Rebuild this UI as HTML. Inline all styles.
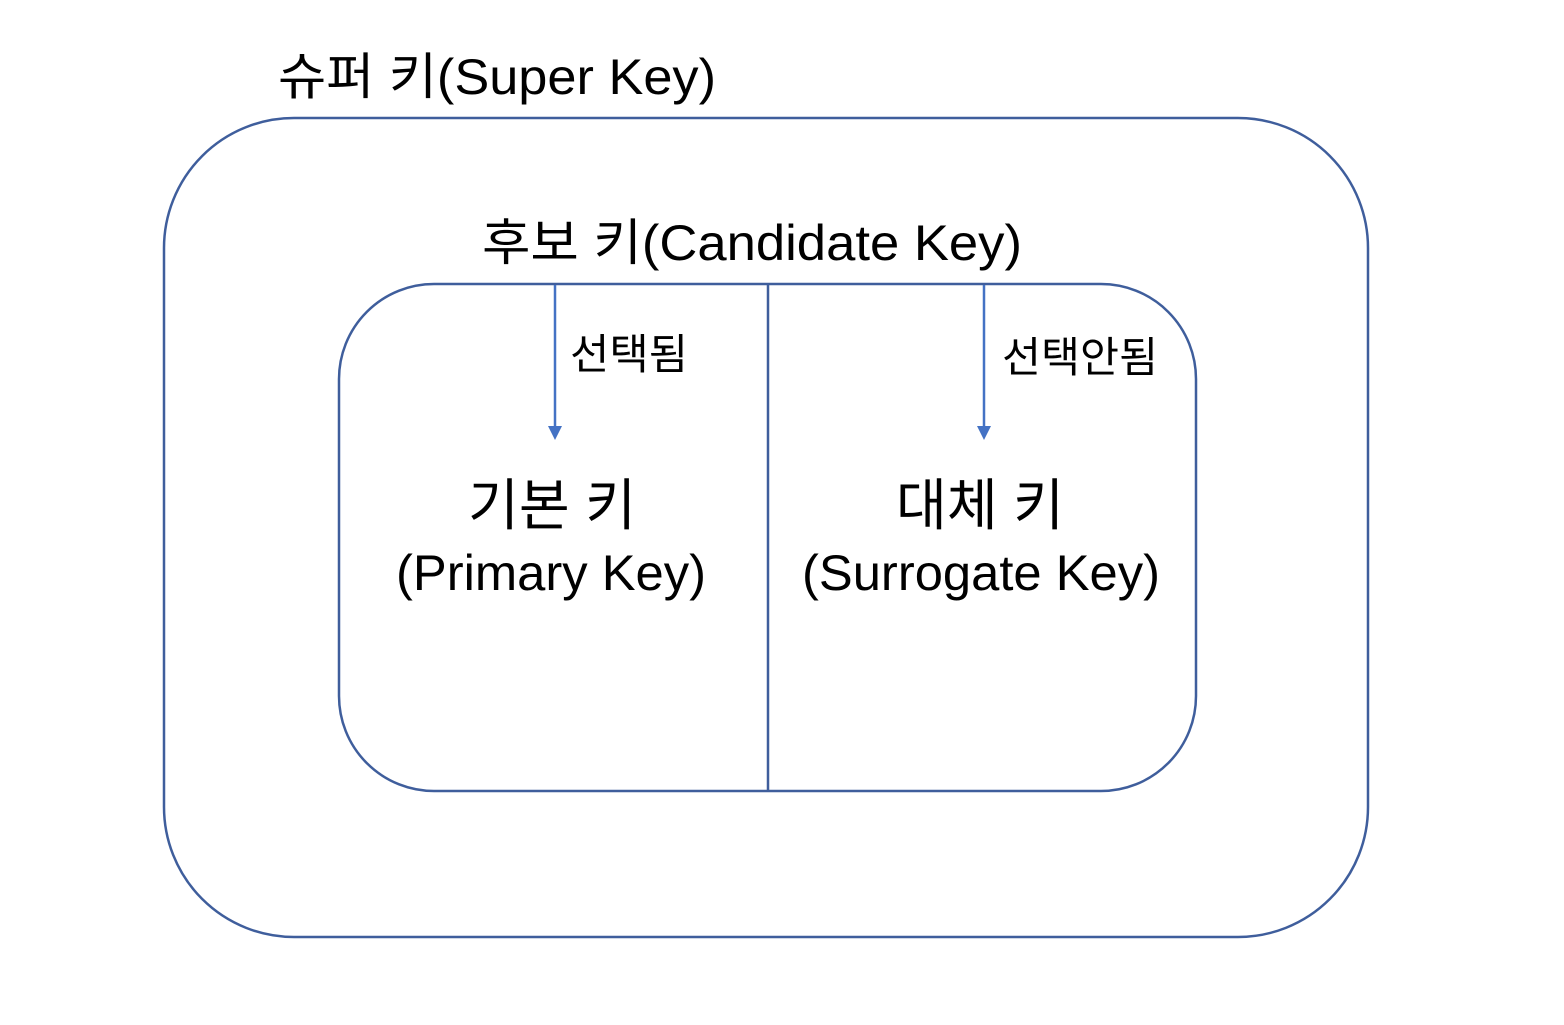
<!DOCTYPE html>
<html><head><meta charset="utf-8"><style>
html,body{margin:0;padding:0;background:#fff;}
svg text{font-family:"Liberation Sans","Noto Sans CJK KR",sans-serif;fill:#000;}
</style></head><body>
<svg width="1564" height="1020" viewBox="0 0 1564 1020" xmlns="http://www.w3.org/2000/svg">
<rect x="164" y="118" width="1204" height="819" rx="130" ry="130" fill="none" stroke="#3f5e9c" stroke-width="2.5"/>
<rect x="339" y="284" width="857" height="507" rx="95" ry="95" fill="none" stroke="#3f5e9c" stroke-width="2.5"/>
<line x1="768" y1="284" x2="768" y2="791" stroke="#3f5e9c" stroke-width="2.5"/>
<line x1="555" y1="285" x2="555" y2="430" stroke="#4472c4" stroke-width="2.5"/>
<path d="M548,426 L562,426 L555,440 z" fill="#4472c4"/>
<line x1="984" y1="285" x2="984" y2="430" stroke="#4472c4" stroke-width="2.5"/>
<path d="M977,426 L991,426 L984,440 z" fill="#4472c4"/>
<text x="497" y="94" font-size="50" text-anchor="middle" textLength="438" lengthAdjust="spacingAndGlyphs">슈퍼 키(Super Key)</text>
<text x="752" y="260" font-size="50" text-anchor="middle" textLength="540" lengthAdjust="spacingAndGlyphs">후보 키(Candidate Key)</text>
<text x="629" y="369" font-size="42" text-anchor="middle" textLength="118" lengthAdjust="spacingAndGlyphs">선택됨</text>
<text x="1080" y="372" font-size="42" text-anchor="middle" textLength="156" lengthAdjust="spacingAndGlyphs">선택안됨</text>
<text x="552" y="525" font-size="56" text-anchor="middle" textLength="168" lengthAdjust="spacingAndGlyphs">기본 키</text>
<text x="551" y="590" font-size="50" text-anchor="middle" textLength="310" lengthAdjust="spacingAndGlyphs">(Primary Key)</text>
<text x="980" y="525" font-size="56" text-anchor="middle" textLength="168" lengthAdjust="spacingAndGlyphs">대체 키</text>
<text x="981" y="590" font-size="50" text-anchor="middle" textLength="358" lengthAdjust="spacingAndGlyphs">(Surrogate Key)</text>
</svg>
</body></html>
